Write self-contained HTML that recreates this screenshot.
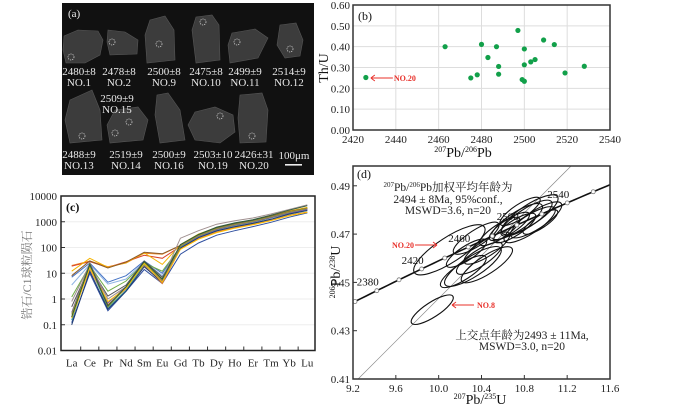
<!DOCTYPE html>
<html><head><meta charset="utf-8">
<style>
html,body{margin:0;padding:0;background:#fff;}
svg{display:block;font-family:"Liberation Serif","Noto Serif CJK SC","Noto Sans CJK SC",serif;}
</style></head>
<body>
<svg id="fig" width="700" height="407" viewBox="0 0 700 407" xmlns="http://www.w3.org/2000/svg">
  <g id="panelA">
    <rect x="62" y="3" width="252" height="172" fill="#111"/>
    <text x="68" y="17" fill="#eee" font-size="11">(a)</text>
    <g fill="#3c3c3c" stroke="#565656" stroke-width="0.6">
      <path d="M64,36 L78,30 L98,31 L103,40 L100,55 L85,63 L66,63 L63,50 Z"/>
      <path d="M108,30 L125,32 L138,40 L137,54 L110,55 L107,42 Z"/>
      <path d="M150,20 L165,16 L174,30 L175,60 L147,63 L145,35 Z"/>
      <path d="M196,17 L212,15 L219,25 L220,60 L196,63 L192,30 Z"/>
      <path d="M232,33 L255,29 L268,38 L258,58 L230,63 L228,45 Z"/>
      <path d="M280,25 L296,23 L303,40 L300,56 L285,58 L277,45 Z"/>
      <path d="M70,100 L92,90 L100,110 L102,140 L70,143 L65,120 Z"/>
      <path d="M115,110 L138,107 L148,120 L143,140 L110,143 L107,125 Z"/>
      <path d="M157,95 L168,93 L180,110 L185,140 L160,143 L155,115 Z"/>
      <path d="M195,112 L215,107 L233,115 L235,132 L220,143 L195,140 L188,125 Z"/>
      <path d="M240,95 L262,93 L268,110 L266,142 L240,143 L238,118 Z"/>
    </g>
    <g fill="none" stroke="#ddd" stroke-width="0.7" stroke-dasharray="1.2,1">
      <circle cx="71" cy="57" r="3"/><circle cx="112" cy="42" r="3"/><circle cx="159" cy="44" r="3"/>
      <circle cx="203" cy="22" r="3"/><circle cx="237" cy="42" r="3"/><circle cx="290" cy="49" r="3"/>
      <circle cx="82" cy="136" r="3"/><circle cx="129" cy="122" r="3"/><circle cx="115" cy="133" r="3"/>
      <circle cx="220" cy="116" r="3"/><circle cx="252" cy="136" r="3"/>
    </g>
    <g fill="#e8e8e8" font-size="11" text-anchor="middle">
      <text x="79" y="75">2480±8</text><text x="79" y="86">NO.1</text>
      <text x="119" y="75">2478±8</text><text x="119" y="86">NO.2</text>
      <text x="164" y="75">2500±8</text><text x="164" y="86">NO.9</text>
      <text x="206" y="75">2475±8</text><text x="206" y="86">NO.10</text>
      <text x="245" y="75">2499±9</text><text x="245" y="86">NO.11</text>
      <text x="289" y="75">2514±9</text><text x="289" y="86">NO.12</text>
      <text x="117" y="102">2509±9</text><text x="117" y="113">NO.15</text>
      <text x="79" y="158">2488±9</text><text x="79" y="169">NO.13</text>
      <text x="126" y="158">2519±9</text><text x="126" y="169">NO.14</text>
      <text x="169" y="158">2500±9</text><text x="169" y="169">NO.16</text>
      <text x="213" y="158">2503±10</text><text x="213" y="169">NO.19</text>
      <text x="254" y="158">2426±31</text><text x="254" y="169">NO.20</text>
      <text x="294" y="159">100μm</text>
    </g>
    <rect x="285" y="164" width="17" height="1.6" fill="#eee"/>
  </g>
  <g id="panelB"></g>
  <g id="panelC"></g>
  <g id="panelD"></g>
</svg>
<script>
// ---------- Panel (b) data ----------
const bAge = [2426,2463,2475,2478,2480,2483,2487,2488,2488,2497,2499,2500,2500,2500,2503,2505,2509,2514,2519,2528];
const bThU = [0.252,0.400,0.250,0.265,0.411,0.348,0.400,0.305,0.268,0.478,0.242,0.234,0.389,0.313,0.327,0.338,0.432,0.410,0.274,0.306];
const bXTicks = [2420,2440,2460,2480,2500,2520,2540];
const bYTicks = [0.00,0.10,0.20,0.30,0.40,0.50,0.60];

// ---------- Panel (c) data ----------
const reeLabels = ["La","Ce","Pr","Nd","Sm","Eu","Gd","Tb","Dy","Ho","Er","Tm","Yb","Lu"];
const reeYTicks = [0.01,0.1,1,10,100,1000,10000];
const reeYTickLabels = ["0.01","0.1","1","10","100","1000","10000"];
const ree1 = [20,30,18,25,60,55,120,300,550,800,1100,1600,2500,3500];
const ree2 = [19,28,17,28,50,38,110,280,500,750,1000,1500,2300,3200];
const ree3 = [12,38,17,26,62,22,130,330,600,850,1150,1700,2600,3600];
const ree4 = [8,30,16,27,65,57,120,310,580,830,1120,1650,2500,3400];
const ree5 = [7,25,4.5,8,30,10,110,280,500,750,1000,1450,2200,3000];
const ree6 = [3.5,22,3.8,6,28,8,100,260,480,700,950,1400,2100,2800];
const ree7 = [1.2,20,2,5,25,12,105,270,490,720,970,1420,2150,2900];
const ree8 = [0.5,18,1.3,3.5,30,7,120,300,560,820,1100,1600,2400,3300];
const ree9 = [0.8,22,1,3,22,6,230,450,800,1100,1400,2000,3000,4500];
const ree10 = [0.12,10,0.35,2,14,4,55,150,300,450,650,950,1500,2200];
const ree11 = [0.2,15,0.6,2.5,20,4,90,220,400,600,800,1150,1800,2400];
const ree12 = [0.15,20,0.45,2.2,22,5,100,250,450,650,870,1250,1950,2700];
const ree13 = [0.1,12,0.4,2,18,4.5,95,240,440,640,860,1250,2000,2800];
const ree14 = [0.3,25,0.7,3,25,5,110,270,500,730,980,1450,2200,3000];
const ree15 = [0.25,24,0.5,2.8,26,5.5,115,290,540,780,1050,1550,2400,3300];
const ree16 = [0.18,16,0.8,2.6,24,4.5,85,210,380,560,760,1100,1700,2300];
const ree17 = [0.2,22,0.55,3,28,6,130,320,620,900,1200,1800,2800,4200];
const reeSeries = [ree1,ree2,ree3,ree4,ree5,ree6,ree7,ree8,ree9,ree10,ree11,ree12,ree13,ree14,ree15,ree16,ree17];
const reeColors = ["#f08a24","#d9452b","#f5b400","#8a5a2b","#4472c4","#8fb4e3","#70ad47","#555555","#a09090","#2f4f9f","#ed7d31","#3aa0a0","#1f3a70","#7a5fa0","#9a9a30","#ffc000","#2e5a3a"];

// ---------- Panel (d) data ----------
const dXTicks = [9.2,9.6,10.0,10.4,10.8,11.2,11.6];
const dYTicks = [0.41,0.43,0.45,0.47,0.49];
const concAges = [2340,2360,2380,2400,2420,2440,2460,2480,2500,2520,2540,2560,2580];
const concLabelAges = [2380,2420,2460,2500,2540];
const ellX = [10.10,9.94,10.32,10.23,10.38,10.26,10.45,10.35,10.45,10.66,10.73,10.82,10.85,10.76,10.91,10.57,10.85,10.71,10.95];
const ellY = [0.4635,0.4387,0.4566,0.4545,0.4600,0.4621,0.4642,0.4683,0.4573,0.4732,0.4752,0.4766,0.4739,0.4794,0.4759,0.4711,0.4780,0.4725,0.4750];
const ellA = [0.39,0.23,0.31,0.25,0.25,0.22,0.25,0.25,0.28,0.22,0.28,0.28,0.28,0.22,0.28,0.22,0.31,0.23,0.19];
const upperAge = 2493;

const NS = "http://www.w3.org/2000/svg";
function mk(parent, tag, attrs, txt){
  const e = document.createElementNS(NS, tag);
  for (const k in attrs) e.setAttribute(k, attrs[k]);
  if (txt !== undefined) e.textContent = txt;
  parent.appendChild(e);
  return e;
}

// ===== Panel B =====
(function(){
  const g = document.getElementById("panelB");
  const L=353,R=610,T=5,B=130;
  const xs = v => L + (v-2420)/120*(R-L);
  const ys = v => B - v/0.6*(B-T);
  bXTicks.forEach(t=>{
    const l = mk(g,"line",{x1:xs(t),x2:xs(t),y1:T,y2:B,stroke:"#ddd","stroke-width":1});
    
    
    const tx = mk(g,"text",{x:xs(t),y:B+13,"font-size":11,"text-anchor":"middle",fill:"#222"},String(t));
    
    
  });
  bYTicks.forEach(t=>{
    const l = mk(g,"line",{x1:L,x2:R,y1:ys(t),y2:ys(t),stroke:"#ddd","stroke-width":1});
    
    
    const tx = mk(g,"text",{x:L-3,y:ys(t)+4,"font-size":11,"text-anchor":"end",fill:"#222"},t.toFixed(2));
    
    
  });
  const box = mk(g,"rect",{x:L,y:T,width:R-L,height:B-T,fill:"none",stroke:"#333","stroke-width":1.5});
  
  
  const lab = mk(g,"text",{x:L+5,y:T+15,"font-size":12,fill:"#111"},"(b)");
  
  
  bAge.forEach((a,i)=>{
    const c = mk(g,"circle",{cx:xs(a),cy:ys(bThU[i]),r:2.6,fill:"#12a04a"});
    
    
  });
  const ax = xs(bAge[0])+5, ay = ys(bThU[0])+0.5;
  const ar = mk(g,"path",{d:`M${ax},${ay} l4,-3 M${ax},${ay} l4,3 M${ax},${ay} L${ax+22},${ay}`,stroke:"#e8302a","stroke-width":1,fill:"none"});
  
  
  const nt = mk(g,"text",{x:ax+23,y:ay+3,"font-size":8,"font-weight":"bold",fill:"#e8302a"},"NO.20");
  
  
  const yt = mk(g,"text",{transform:"translate(328,68) rotate(-90)","font-size":14,"text-anchor":"middle",fill:"#111"},"Th/U");
  
  
  const xt = mk(g,"text",{x:463,y:157,"font-size":14,"text-anchor":"middle",fill:"#111"});
  
  
  mk(xt,"tspan",{"font-size":8,dy:-5},"207");
  mk(xt,"tspan",{dy:5},"Pb/");
  mk(xt,"tspan",{"font-size":8,dy:-5},"206");
  mk(xt,"tspan",{dy:5},"Pb");
})();

// ===== Panel C =====
(function(){
  const g = document.getElementById("panelC");
  const L=61,R=315,T=196,B=350.5;
  const xs = i => 71.7 + i*18.12;
  const ys = v => B - (Math.log10(v)+2)*25.75;
  reeYTicks.forEach((t,i)=>{
    if(i>0 && i<reeYTicks.length-1){
      const l = mk(g,"line",{x1:L,x2:R,y1:ys(t),y2:ys(t),stroke:"#eee","stroke-width":1});
      
      
    }
    const tk = mk(g,"line",{x1:L,x2:L+4,y1:ys(t),y2:ys(t),stroke:"#333","stroke-width":1});
    
    
    const tx = mk(g,"text",{x:L-4,y:ys(t)+4,"font-size":11,"text-anchor":"end",fill:"#222"},reeYTickLabels[i]);
    
    
  });
  reeLabels.forEach((lb,i)=>{
    const tx = mk(g,"text",{x:xs(i),y:B+16,"font-size":11,"text-anchor":"middle",fill:"#222"},lb);
    
    
    if(i<reeLabels.length-1){
      const tk = mk(g,"line",{x1:xs(i)+9,x2:xs(i)+9,y1:B,y2:B-4,stroke:"#333","stroke-width":1});
      
      
    }
  });
  reeSeries.forEach((s,k)=>{
    const d = s.map((v,i)=>(i?"L":"M")+xs(i).toFixed(1)+","+ys(v).toFixed(1)).join(" ");
    const p = mk(g,"path",{d:d,fill:"none",stroke:reeColors[k],"stroke-width":1});
    
    
  });
  const box = mk(g,"rect",{x:L,y:T,width:R-L,height:B-T,fill:"none",stroke:"#222","stroke-width":1.5});
  
  
  const lab = mk(g,"text",{x:L+5,y:T+15,"font-size":12,"font-weight":"bold",fill:"#111"},"(c)");
  
  
  const yt = mk(g,"text",{transform:"translate(31,275) rotate(-90)","font-size":12,"text-anchor":"middle",fill:"#777"},"锆石/C1球粒陨石");
  
  
})();

// ===== Panel D =====
(function(){
  const g = document.getElementById("panelD");
  const L=353,R=610,T=166,B=379;
  const xs = v => L + (v-9.2)/2.4*(R-L);
  const ys = v => B - (v-0.41)/0.02*48.3;
  const l238=1.55125e-4, l235=9.8485e-4;
  const cx = t => Math.exp(l235*t)-1, cy = t => Math.exp(l238*t)-1;
  const clip = mk(g,"clipPath",{id:"dclip"});
  mk(clip,"rect",{x:L,y:T,width:R-L,height:B-T});
  const inner = mk(g,"g",{"clip-path":"url(#dclip)"});
  
  
  const ux=cx(upperAge), uy=cy(upperAge), sl=uy/ux;
  const dl = mk(inner,"line",{x1:xs(9.0),y1:ys(9.0*sl),x2:xs(11.6),y2:ys(11.6*sl),stroke:"#888","stroke-width":0.7});
  
  
  let pts=[];
  for(let t=2300;t<=2620;t+=5) pts.push(xs(cx(t)).toFixed(1)+","+ys(cy(t)).toFixed(1));
  const cc = mk(inner,"polyline",{points:pts.join(" "),fill:"none",stroke:"#111","stroke-width":1.6});
  
  
  ellX.forEach((x,i)=>{
    const px=xs(x), py=ys(ellY[i]);
    const a = ellA[i]*(R-L)/2.4;
    const e = mk(inner,"ellipse",{cx:px,cy:py,rx:a,ry:a*0.3,transform:`rotate(-33 ${px} ${py})`,fill:"none",stroke:"#111","stroke-width":1.1});
    
    
  });
  concAges.forEach(t=>{
    const c = mk(inner,"circle",{cx:xs(cx(t)),cy:ys(cy(t)),r:2,fill:"#fff",stroke:"#777","stroke-width":0.8});
    
    
  });
  concLabelAges.forEach(t=>{
    const tx = mk(g,"text",{x:xs(cx(t))-9,y:ys(cy(t))-5,"font-size":11,"text-anchor":"middle",fill:"#111"},String(t));
    
    
  });
  dXTicks.forEach(t=>{
    const tx = mk(g,"text",{x:xs(t),y:B+13,"font-size":11,"text-anchor":"middle",fill:"#222"},t.toFixed(1));
    
    
    const tk = mk(g,"line",{x1:xs(t),x2:xs(t),y1:B,y2:B-4,stroke:"#333"});
    
    
  });
  dYTicks.forEach(t=>{
    const tx = mk(g,"text",{x:L-3,y:ys(t)+4,"font-size":11,"text-anchor":"end",fill:"#222"},t.toFixed(2));
    
    
    const tk = mk(g,"line",{x1:L,x2:L+4,y1:ys(t),y2:ys(t),stroke:"#333"});
    
    
  });
  const box = mk(g,"rect",{x:L,y:T,width:R-L,height:B-T,fill:"none",stroke:"#333","stroke-width":1.5});
  
  
  const lab = mk(g,"text",{x:L+4,y:T+12,"font-size":12,fill:"#111"},"(d)");
  
  
  const t1 = mk(g,"text",{x:448,y:191,"font-size":11.5,"text-anchor":"middle",fill:"#222"});
  
  
  mk(t1,"tspan",{"font-size":7,dy:-4},"207");
  mk(t1,"tspan",{dy:4},"Pb/");
  mk(t1,"tspan",{"font-size":7,dy:-4},"206");
  mk(t1,"tspan",{dy:4},"Pb加权平均年龄为");
  const t2 = mk(g,"text",{x:448,y:203,"font-size":11.5,"text-anchor":"middle",fill:"#222"},"2494 ± 8Ma, 95%conf.,");
  
  
  const t3 = mk(g,"text",{x:448,y:214,"font-size":11.5,"text-anchor":"middle",fill:"#222"},"MSWD=3.6, n=20");
  
  
  const t4 = mk(g,"text",{x:522,y:339,"font-size":11.5,"text-anchor":"middle",fill:"#222"},"上交点年龄为2493 ± 11Ma,");
  
  
  const t5 = mk(g,"text",{x:522,y:350,"font-size":11.5,"text-anchor":"middle",fill:"#222"},"MSWD=3.0, n=20");
  
  
  const a1 = mk(g,"path",{d:"M415,245 L437,245 M437,245 l-4,-3 M437,245 l-4,3",stroke:"#e8302a","stroke-width":1,fill:"none"});
  
  
  const n1 = mk(g,"text",{x:392,y:248,"font-size":8,"font-weight":"bold",fill:"#e8302a"},"NO.20");
  
  
  const a2 = mk(g,"path",{d:"M452,305 L474,305 M452,305 l4,-3 M452,305 l4,3",stroke:"#e8302a","stroke-width":1,fill:"none"});
  
  
  const n2 = mk(g,"text",{x:477,y:308,"font-size":8,"font-weight":"bold",fill:"#e8302a"},"NO.8");
  
  
  const yt = mk(g,"text",{transform:"translate(340,272) rotate(-90)","font-size":14,"text-anchor":"middle",fill:"#111"});
  
  
  mk(yt,"tspan",{"font-size":8,dy:-5},"206");
  mk(yt,"tspan",{dy:5},"Pb/");
  mk(yt,"tspan",{"font-size":8,dy:-5},"238");
  mk(yt,"tspan",{dy:5},"U");
  const xt = mk(g,"text",{x:480,y:404,"font-size":14,"text-anchor":"middle",fill:"#111"});
  
  
  mk(xt,"tspan",{"font-size":8,dy:-5},"207");
  mk(xt,"tspan",{dy:5},"Pb/");
  mk(xt,"tspan",{"font-size":8,dy:-5},"235");
  mk(xt,"tspan",{dy:5},"U");
})();
</script>
</body></html>
